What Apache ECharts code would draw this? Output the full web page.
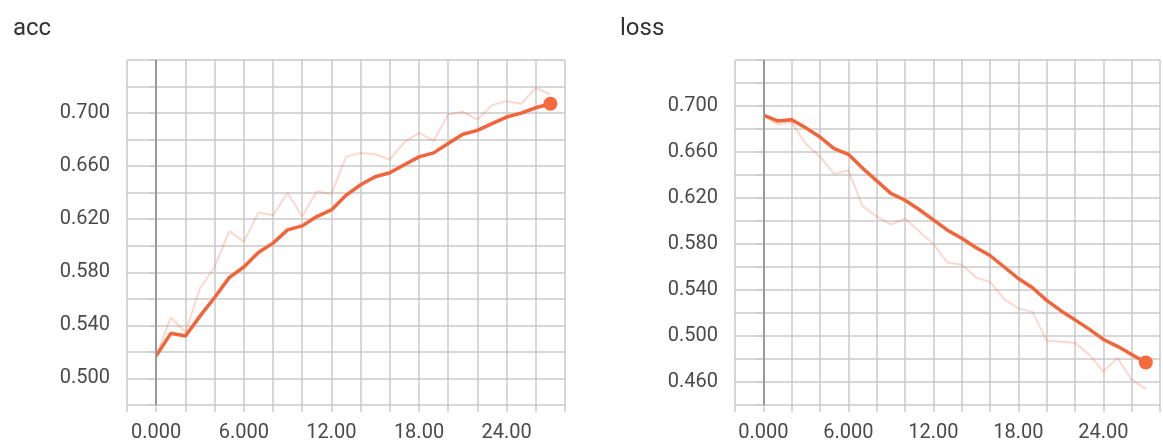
<!DOCTYPE html>
<html>
<head>
<meta charset="utf-8">
<script src="https://cdn.jsdelivr.net/npm/echarts@6/dist/echarts.min.js"></script>
<style>
  html, body { margin: 0; padding: 0; background: #fff; }
  #chart { width: 1163px; height: 443px; }
</style>
</head>
<body>
<div id="chart"></div>
<script>
// training steps (x)
var steps = [0, 1, 2, 3, 4, 5, 6, 7, 8, 9, 10, 11, 12, 13, 14, 15, 16, 17, 18, 19, 20, 21, 22, 23, 24, 25, 26, 27]
// acc: smoothed + raw
var accSmooth = [0.517, 0.534, 0.532, 0.547, 0.561, 0.576, 0.584, 0.595, 0.602, 0.612, 0.615, 0.622, 0.627, 0.638, 0.646, 0.652, 0.655, 0.661, 0.667, 0.670, 0.677, 0.684, 0.687, 0.692, 0.697, 0.700, 0.704, 0.707]
var accRaw = [0.517, 0.546, 0.535, 0.568, 0.584, 0.611, 0.603, 0.625, 0.623, 0.640, 0.622, 0.641, 0.639, 0.667, 0.670, 0.669, 0.665, 0.678, 0.685, 0.679, 0.699, 0.701, 0.695, 0.706, 0.709, 0.707, 0.719, 0.714]
// loss: smoothed + raw
var lossSmooth = [0.692, 0.687, 0.688, 0.681, 0.673, 0.663, 0.658, 0.646, 0.635, 0.624, 0.618, 0.610, 0.601, 0.592, 0.585, 0.577, 0.570, 0.560, 0.550, 0.542, 0.531, 0.522, 0.514, 0.506, 0.497, 0.491, 0.484, 0.477]
var lossRaw = [0.692, 0.684, 0.686, 0.667, 0.656, 0.641, 0.644, 0.613, 0.604, 0.597, 0.602, 0.591, 0.580, 0.564, 0.562, 0.551, 0.547, 0.532, 0.524, 0.521, 0.496, 0.495, 0.494, 0.484, 0.469, 0.481, 0.462, 0.454]

var LINE = '#f2643a'
var FAINT = 'rgba(242, 100, 58, 0.25)'
var GRID_LINE = '#cacaca'
var TXT = '#4a4a4a'
var FONT = 'Roboto'

function pairs(ys) {
  return steps.map(function (s, i) { return [s, ys[i]] })
}

function xAxisOf(idx) {
  return {
    gridIndex: idx,
    type: 'value',
    min: -2,
    max: 28,
    interval: 2,
    axisLine: { show: false },
    axisTick: { show: true, length: 7, lineStyle: { color: GRID_LINE, width: 1.5 } },
    splitLine: { show: true, lineStyle: { color: GRID_LINE, width: 1.5 } },
    axisLabel: {
      color: TXT,
      fontFamily: FONT,
      fontSize: 20,
      margin: 18,
      formatter: function (v) {
        return (v >= 0 && v % 6 === 0) ? v.toPrecision(4) : ''
      }
    }
  }
}

function yAxisOf(idx, min) {
  return {
    gridIndex: idx,
    type: 'value',
    min: min,
    max: 0.74,
    interval: 0.02,
    axisLine: { show: false },
    axisTick: { show: true, length: 7, lineStyle: { color: GRID_LINE, width: 1.5 } },
    splitLine: { show: true, lineStyle: { color: GRID_LINE, width: 1.5 } },
    axisLabel: {
      color: TXT,
      fontFamily: FONT,
      fontSize: 20,
      margin: 17,
      formatter: function (v) {
        var n = Math.round(v * 1000)
        return ((n - 500) % 40 === 0 && n <= 700) ? v.toFixed(3) : ''
      }
    }
  }
}

function seriesOf(idx, raw, smooth) {
  var last = steps.length - 1
  return [
    {
      type: 'line',
      xAxisIndex: idx,
      yAxisIndex: idx,
      data: pairs(raw),
      symbol: 'none',
      lineStyle: { color: FAINT, width: 2 },
      silent: true
    },
    {
      type: 'line',
      xAxisIndex: idx,
      yAxisIndex: idx,
      data: pairs(smooth),
      symbol: 'none',
      z: 3,
      lineStyle: { color: LINE, width: 3.5 },
      silent: true,
      // dark vertical line at step 0
      markLine: {
        silent: true,
        symbol: ['none', 'none'],
        label: { show: false },
        lineStyle: { color: '#999', width: 2, type: 'solid' },
        data: [{ xAxis: 0 }]
      }
    },
    {
      type: 'scatter',
      xAxisIndex: idx,
      yAxisIndex: idx,
      data: [[steps[last], smooth[last]]],
      symbolSize: 14,
      z: 4,
      itemStyle: { color: '#f86a3c', opacity: 1 },
      silent: true
    }
  ]
}

var myChart = echarts.init(document.getElementById('chart'))
myChart.setOption({
  animation: false,
  title: [
    { text: 'acc', left: 8, top: 12, textStyle: { color: '#333', fontFamily: FONT, fontSize: 24, fontWeight: 'normal' } },
    { text: 'loss', left: 615, top: 12, textStyle: { color: '#333', fontFamily: FONT, fontSize: 24, fontWeight: 'normal' } }
  ],
  grid: [
    { left: 127, top: 60, width: 438, height: 346 },
    { left: 735, top: 60, width: 436, height: 345 }
  ],
  xAxis: [xAxisOf(0), xAxisOf(1)],
  yAxis: [yAxisOf(0, 0.48), yAxisOf(1, 0.44)],
  series: seriesOf(0, accRaw, accSmooth).concat(seriesOf(1, lossRaw, lossSmooth))
})
</script>
</body>
</html>
